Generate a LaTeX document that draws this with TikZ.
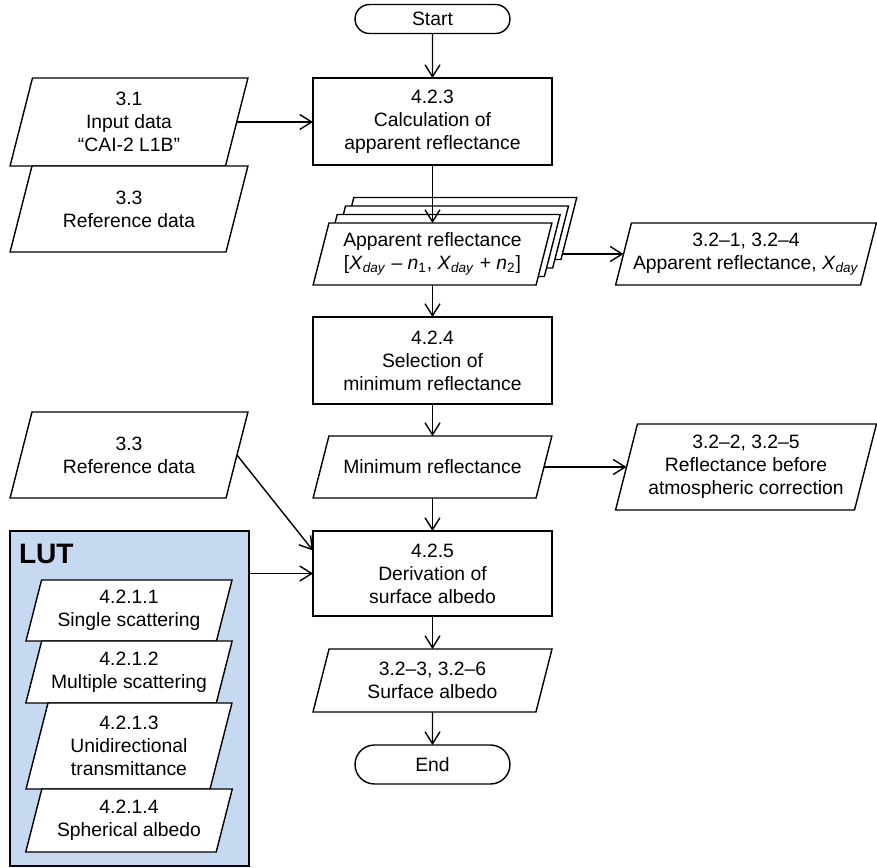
\documentclass[tikz,border=0pt]{standalone}
\usepackage{fontspec}
\setmainfont{Liberation Sans}
\usepackage{tikz}
\definecolor{lutblue}{RGB}{198,217,240}
\usetikzlibrary{calc,positioning,arrows.meta,shapes.misc}
\pgfdeclarelayer{bottom}
\pgfdeclarelayer{back}
\pgfsetlayers{bottom,back,main}
\tikzset{
  every node/.style={font=\fontsize{11}{13}\selectfont, align=center, outer sep=0pt, inner sep=2pt},
  every path/.style={line width=0.8pt},
  term/.style={draw, rounded rectangle, minimum width=3.24cm},
  proc/.style={draw, rectangle, minimum width=4.78cm, minimum height=1.74cm},
  data/.style={rectangle, minimum width=4.46cm, minimum height=1.24cm},
  arr/.style={-{Straight Barb[length=2.4mm,width=3mm]}}
}
% slanted frame round a data node, drawn behind its text
\newcommand\dataframe[1]{%
  \begin{pgfonlayer}{back}
  \filldraw[fill=white] let \p1=(#1.north east), \p2=(#1.south west), \n1={0.1275*(\y1-\y2)} in
    (\x2-\n1,\y2) -- (\x1-\n1,\y2) -- (\x1+\n1,\y1) -- (\x2+\n1,\y1) -- cycle;
  \end{pgfonlayer}}

\begin{document}
\begin{tikzpicture}[x=0.02cm,y=-0.02cm]
\useasboundingbox (0,0) rectangle (877,867);
% main column
\node[term, minimum height=0.58cm] (start) at (432.5,19) {Start};
\node[proc] (b423) at (432.5,121.5) {4.2.3\\Calculation of\\apparent reflectance};
\foreach \k in {3,2,1}
  \node[data] (app\k) at (432.5+8.3*\k,254-8.5*\k) {}; % stacked days
\node[data] (app) at (432.5,254) {Apparent reflectance\\{[}\textit{X}\textsubscript{\textit{day}} – \textit{n}\textsubscript{1}, \textit{X}\textsubscript{\textit{day}} + \textit{n}\textsubscript{2}]};
\node[proc] (b424) at (432.5,360.5) {4.2.4\\Selection of\\minimum reflectance};
\node[data] (minref) at (432.5,467) {Minimum reflectance};
\node[proc, minimum height=1.7cm] (b425) at (432.5,573.5) {4.2.5\\Derivation of\\surface albedo};
\node[data, minimum height=1.26cm] (surf) at (432.5,680.5) {3.2–3, 3.2–6\\Surface albedo};
\node[term, minimum height=0.78cm] (finish) at (432.5,764.5) {End};

% inputs on the left
\node[data, minimum width=4.31cm, minimum height=1.76cm] (in31) at (129,122) {3.1\\Input data\\“CAI-2 L1B”};
\node[data, minimum width=4.32cm, minimum height=1.72cm] (ref33a) at (129,209) {3.3\\Reference data};
\node[data, minimum width=4.32cm, minimum height=1.72cm] (ref33b) at (129,455) {3.3\\Reference data};

% LUT group
\begin{pgfonlayer}{bottom}
\node[draw, fill=lutblue, minimum width=4.78cm, minimum height=6.7cm, anchor=north west] (lut) at (10,531) {};
\end{pgfonlayer}
\node[font=\bfseries\fontsize{16}{19}\selectfont, anchor=base west, inner sep=0pt] (luttitle) at (19,563) {LUT};
\node[data, minimum width=3.81cm, minimum height=1.22cm] (lut1) at (129,610.5) {4.2.1.1\\Single scattering};
\node[data, minimum width=3.81cm] (lut2) at (129,672) {4.2.1.2\\Multiple scattering};
\node[data, minimum width=3.68cm, minimum height=1.72cm] (lut3) at (129,746) {4.2.1.3\\Unidirectional\\transmittance};
\node[data, minimum width=3.81cm, minimum height=1.26cm] (lut4) at (129,820.5) {4.2.1.4\\Spherical albedo};

% outputs on the right
\node[data, minimum width=4.9cm] (out1) at (746,254) {3.2–1, 3.2–4\\Apparent reflectance, \textit{X}\textsubscript{\textit{day}}};
\node[data, minimum width=4.78cm, minimum height=1.72cm] (out2) at (746,467) {3.2–2, 3.2–5\\Reflectance before\\atmospheric correction};

% frames, back to front
\foreach \nd in {app3,app2,app1,app,minref,surf,in31,ref33a,ref33b,lut1,lut2,lut3,lut4,out1,out2}
  \dataframe{\nd};

% connectors
\draw[arr] (start) -- (b423);
\draw[arr] (in31.east) -- (b423.west |- in31.east);
\draw[arr] (b423) -- (app);
\draw[arr] (app) -- (b424);
\draw[arr] (b424) -- (minref);
\draw[arr] (minref) -- (b425);
\draw[arr] (b425) -- (surf);
\draw[arr] (surf) -- (finish);
\draw[arr] (minref.east) -- (out2.west);
\draw[arr] (ref33b.east) -- ($(b425.north west)!0.23!(b425.south west)$);
\draw[arr] (lut.east |- b425.west) -- (b425.west);
\begin{pgfonlayer}{bottom}
\draw[arr] (app.east) -- (out1.west); % runs behind the stack
\end{pgfonlayer}
\end{tikzpicture}
\end{document}
